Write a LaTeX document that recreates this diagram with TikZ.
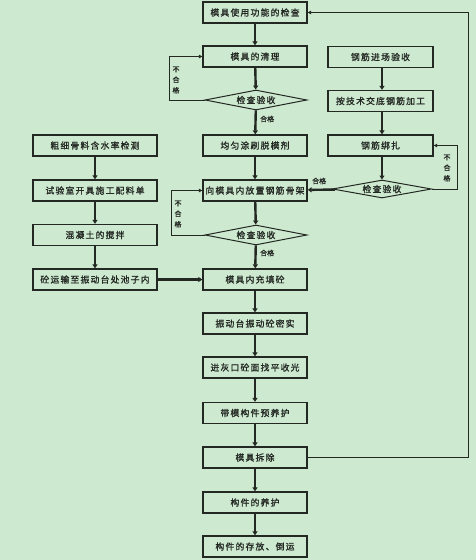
\documentclass[tikz,border=0pt]{standalone}
\usepackage{fontspec}
\setmainfont{Liberation Sans}
\newfontfamily\cjk[LetterSpace=14,FakeBold=1.2]{Noto Sans CJK SC}
\newfontfamily\cjks[FakeBold=1]{Noto Sans CJK SC}
\usetikzlibrary{arrows.meta,shapes.geometric}
\definecolor{bg}{RGB}{205,233,207}
\definecolor{ink}{RGB}{35,40,35}
\tikzset{
  x=1pt,y=-1pt,
  box/.style={draw=ink,line width=1.3pt,fill=bg,rectangle,inner sep=0pt,
     minimum height=21pt,font=\cjk\fontsize{8.8}{9}\selectfont,text=ink},
  mainbox/.style={box,minimum width=104pt},
  leftbox/.style={box,minimum width=124pt},
  rightbox/.style={box,minimum width=105pt},
  chk/.style={draw=ink,line width=1pt,fill=bg,diamond,aspect=5.1,inner sep=0pt,
     minimum width=102pt,minimum height=20pt,font=\cjk\fontsize{8.8}{9}\selectfont,text=ink},
  flow/.style={draw=ink,line width=2.4pt,-{Triangle[length=4pt,width=5pt]}},
  back/.style={draw=ink,line width=0.9pt,-{Triangle[length=3.5pt,width=3.5pt]}},
  lbl/.style={font=\cjks\fontsize{7}{8.5}\selectfont,text=ink,inner sep=0pt,align=center},
}
\begin{document}
\begin{tikzpicture}
\fill[bg] (0,0) rectangle (476,560);
\useasboundingbox (0,0) rectangle (476,560);
% main column
\node[mainbox] (m1) at (255,12.5) {模具使用功能的检查};
\node[mainbox] (m2) at (255,56.5) {模具的清理};
\node[chk] (d1) at (256,100) {检查验收};
\node[mainbox] (m3) at (255,145.5) {均匀涂刷脱模剂};
\node[mainbox] (m4) at (255,190.5) {向模具内放置钢筋骨架};
\node[chk] (d2) at (256,235) {检查验收};
\node[mainbox] (m5) at (255,279.5) {模具内充填砼};
\node[mainbox] (m6) at (255,323.5) {振动台振动砼密实};
\node[mainbox] (m7) at (255,367.5) {进灰口砼面找平收光};
\node[mainbox] (m8) at (255,413) {带模构件预养护};
\node[mainbox] (m9) at (255,457.5) {模具拆除};
\node[mainbox] (m10) at (255,502.5) {构件的养护};
\node[mainbox] (m11) at (255,546.5) {构件的存放、倒运};
% left column
\node[leftbox] (l1) at (95,145.5) {粗细骨料含水率检测};
\node[leftbox] (l2) at (95,190.5) {试验室开具施工配料单};
\node[leftbox] (l3) at (95,235) {混凝土的搅拌};
\node[leftbox] (l4) at (95,279.5) {砼运输至振动台处池子内};
% right column
\node[rightbox] (r1) at (380.5,57) {钢筋进场验收};
\node[rightbox] (r2) at (380.5,101) {按技术交底钢筋加工};
\node[rightbox] (r3) at (380.5,145.5) {钢筋绑扎};
\node[chk,minimum width=99pt,minimum height=18pt] (dr) at (382,189) {检查验收};
% coordinates for loops
\coordinate (c1) at (169,100);
\coordinate (c2) at (171,235);
\coordinate (cr) at (457,189);
\coordinate (ct) at (468,457.5);
% main flow
\draw[flow] (m1) -- (m2);
\draw[flow] (m2) -- (d1);
\draw[flow] (d1) -- (m3);
\draw[flow] (m3) -- (m4);
\draw[flow] (m4) -- (d2);
\draw[flow] (d2) -- (m5);
\draw[flow] (m5) -- (m6);
\draw[flow] (m6) -- (m7);
\draw[flow] (m7) -- (m8);
\draw[flow] (m8) -- (m9);
\draw[flow] (m9) -- (m10);
\draw[flow] (m10) -- (m11);
\draw[flow] (l1) -- (l2);
\draw[flow] (l2) -- (l3);
\draw[flow] (l3) -- (l4);
\draw[flow] (l4) -- (m5);
\draw[flow] (r1.south -| dr) -- (r2.north -| dr);
\draw[flow] (r2.south -| dr) -- (r3.north -| dr);
\draw[flow] (r3.south -| dr) -- (dr.north);
\draw[flow] (dr) -- (m4);
% loops
\draw[back] (d1.west) -- (c1) |- (m2.west);
\draw[back] (d2.west) -- (c2) |- (m4.west);
\draw[back] (dr.east) -- (cr) |- (r3.east);
\draw[back] (m9.east) -- (ct) |- (m1.east);
% labels
\node[lbl] at (176,80) {不\\[2pt]合\\[2pt]格};
\node[lbl] at (178,214) {不\\[2pt]合\\[2pt]格};
\node[lbl] at (447,168) {不\\[2pt]合\\[2pt]格};
\node[lbl,anchor=west] at (260,119) {合格};
\node[lbl,anchor=west] at (260,253) {合格};
\node[lbl,anchor=west] at (312,181) {合格};
\end{tikzpicture}
\end{document}
